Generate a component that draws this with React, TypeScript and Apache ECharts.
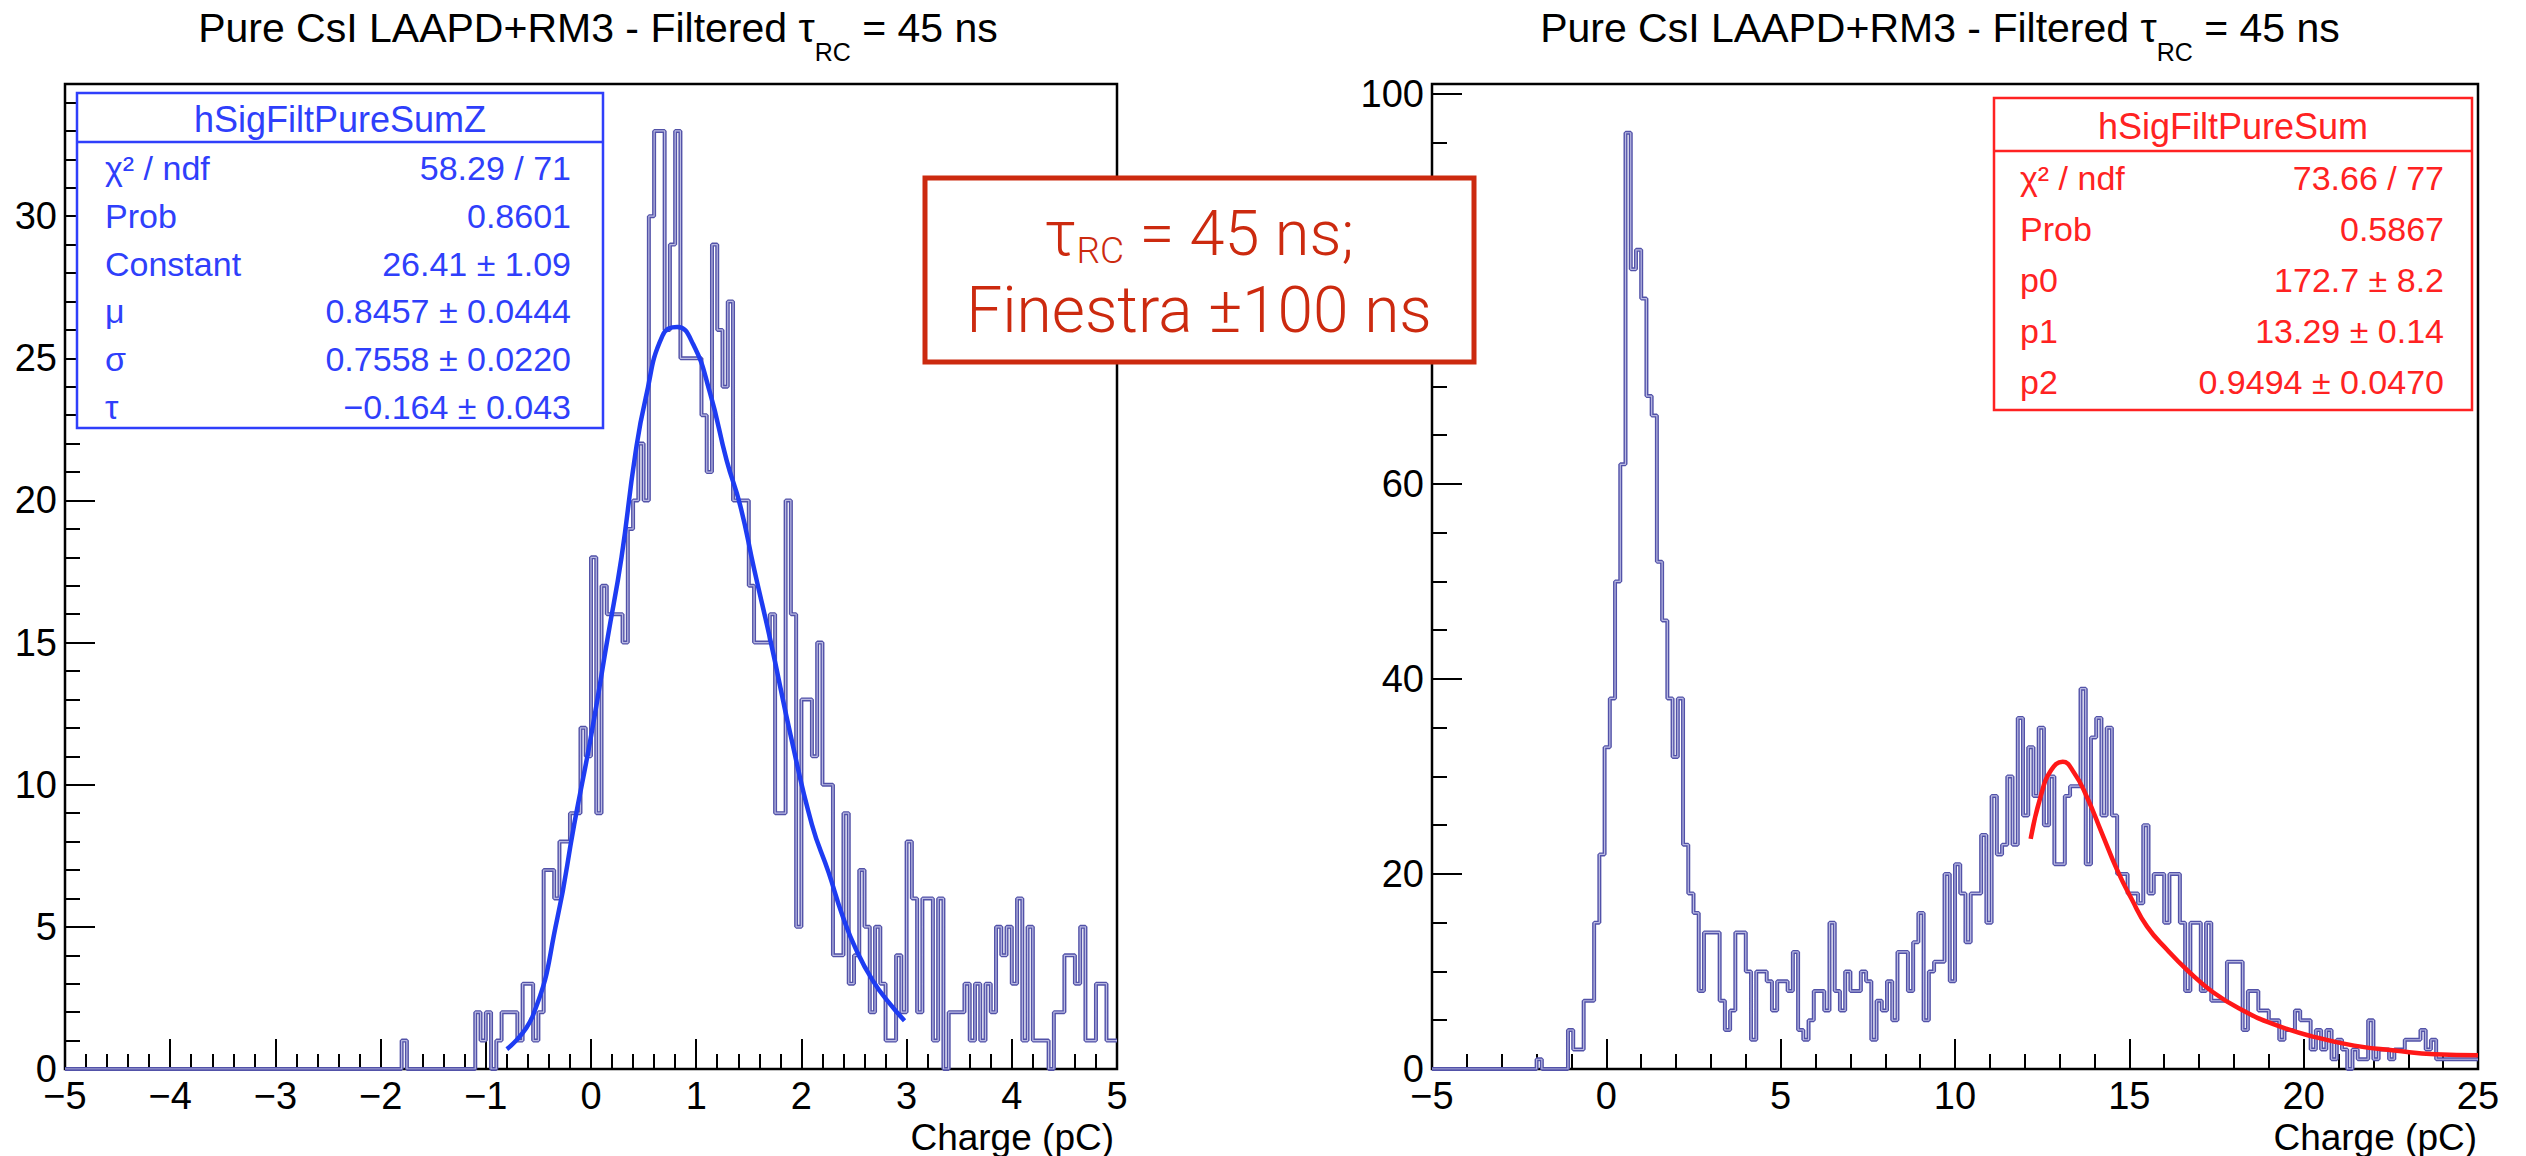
import React, { useEffect, useRef } from "react";
import * as echarts from "echarts";

const W = 2526;
const H = 1156;
const FONT = '"Liberation Sans", Arial, Helvetica, sans-serif';
const NOTE_FONT = 'Roboto, "Liberation Sans", Arial, sans-serif';

// ---------- data ----------
const titleMain = "Pure CsI LAAPD+RM3 - Filtered ";
const titleSymbol = "τ";
const titleSub = "RC";
const titleTail = " = 45 ns";
const xAxisName = "Charge (pC)";

const leftMin = -5;
const leftMax = 5;
const leftBinWidth = 0.05;
// counts per bin, bin i spans [leftMin + i*w, leftMin + (i+1)*w]
const leftCounts = [
  0, 0, 0, 0, 0, 0, 0, 0, 0, 0,
  0, 0, 0, 0, 0, 0, 0, 0, 0, 0,
  0, 0, 0, 0, 0, 0, 0, 0, 0, 0,
  0, 0, 0, 0, 0, 0, 0, 0, 0, 0,
  0, 0, 0, 0, 0, 0, 0, 0, 0, 0,
  0, 0, 0, 0, 0, 0, 0, 0, 0, 0,
  0, 0, 0, 0, 1, 0, 0, 0, 0, 0,
  0, 0, 0, 0, 0, 0, 0, 0, 2, 1,
  2, 0, 1, 2, 2, 2, 1, 3, 3, 1,
  2, 7, 7, 6, 8, 8, 9, 9, 12, 11,
  18, 9, 17, 16, 16, 16, 15, 19, 20, 22,
  20, 30, 33, 33, 26, 29, 33, 25, 25, 25,
  25, 23, 21, 29, 26, 24, 27, 20, 20, 20,
  17, 15, 15, 15, 16, 9, 9, 20, 16, 5,
  13, 13, 11, 15, 10, 10, 4, 4, 9, 3,
  4, 7, 5, 2, 5, 3, 1, 1, 4, 2,
  8, 6, 2, 6, 6, 1, 6, 0, 2, 2,
  2, 3, 1, 3, 1, 3, 2, 5, 4, 5,
  3, 6, 1, 5, 1, 1, 1, 0, 2, 2,
  4, 4, 3, 5, 1, 1, 3, 3, 1, 1,
];
// fitted curve: [charge, counts]
const leftFit = [
  [-0.8, 0.7], [-0.55, 1.9], [-0.32, 5.3], [-0.16, 8.6], [0.0, 11.7],
  [0.16, 15.2], [0.29, 18.0], [0.42, 21.6], [0.52, 23.6], [0.68, 25.8],
  [0.82, 26.1], [0.97, 25.5], [1.13, 23.8], [1.29, 21.4], [1.42, 19.8],
  [1.55, 17.6], [1.71, 15.0], [1.9, 11.7], [2.1, 8.6], [2.26, 6.9],
  [2.39, 5.4], [2.52, 4.2], [2.68, 3.1], [2.84, 2.3], [2.98, 1.7],
];

const rightMin = -5;
const rightMax = 25;
const rightBinWidth = 0.15;
const rightCounts = [
  0, 0, 0, 0, 0, 0, 0, 0, 0, 0,
  0, 0, 0, 0, 0, 0, 0, 0, 0, 0,
  1, 0, 0, 0, 0, 0, 4, 2, 2, 7,
  7, 15, 22, 33, 38, 50, 62, 96, 82, 84,
  79, 69, 67, 52, 46, 38, 32, 38, 23, 18,
  16, 8, 14, 14, 14, 7, 4, 6, 14, 14,
  10, 3, 10, 10, 9, 6, 9, 9, 8, 12,
  4, 3, 5, 8, 8, 6, 15, 8, 6, 10,
  8, 8, 10, 9, 3, 7, 6, 9, 5, 12,
  12, 8, 13, 16, 5, 10, 11, 11, 20, 9,
  21, 18, 13, 18, 18, 24, 15, 28, 22, 23,
  30, 23, 36, 26, 33, 28, 35, 25, 30, 21,
  21, 28, 29, 29, 39, 21, 34, 36, 26, 35,
  26, 20, 20, 18, 18, 17, 25, 18, 20, 20,
  15, 20, 20, 15, 8, 15, 15, 8, 15, 7,
  7, 7, 11, 11, 11, 4, 8, 8, 6, 6,
  5, 5, 3, 4, 4, 6, 5, 5, 2, 4,
  2, 4, 1, 3, 2, 0, 2, 1, 1, 5,
  1, 2, 2, 1, 2, 2, 3, 3, 3, 4,
  2, 3, 1, 1, 1, 1, 1, 1, 1, 1,
];
const rightFit = [
  [12.17, 23.6], [12.46, 28.0], [12.75, 30.6], [13.09, 31.5], [13.41, 30.4],
  [13.77, 28.0], [14.2, 24.3], [14.64, 20.5], [15.07, 17.4], [15.51, 14.6],
  [16.09, 12.2], [16.67, 10.1], [17.39, 7.9], [18.26, 6.0], [19.13, 4.6],
  [20.29, 3.3], [21.45, 2.4], [22.61, 1.9], [23.77, 1.5], [25.0, 1.4],
];

const leftStatsName = "hSigFiltPureSumZ";
const leftStatLabels = ["χ² / ndf", "Prob", "Constant", "μ", "σ", "τ"];
const leftStatValues = [
  "58.29 / 71", "0.8601", "26.41 ± 1.09", "0.8457 ± 0.0444", "0.7558 ± 0.0220", "−0.164 ± 0.043",
];
const rightStatsName = "hSigFiltPureSum";
const rightStatLabels = ["χ² / ndf", "Prob", "p0", "p1", "p2"];
const rightStatValues = ["73.66 / 77", "0.5867", "172.7 ± 8.2", "13.29 ± 0.14", "0.9494 ± 0.0470"];

const noteLine1 = ["τ", "RC", " = 45 ns;"];
const noteLine2 = "Finestra ±100 ns";

// ---------- styles ----------
const HIST_OUT = "#5252a8";
const HIST_IN = "#b9b9e2";
const BLUE = "#2f3ffb";
const RED = "#ff2222";
const NOTE_RED = "#cc2a0f";

const LG = { left: 65, top: 84, width: 1052, height: 985 };
const RG = { left: 1432, top: 84, width: 1046, height: 985 };

function histPoints(counts: number[], min: number, w: number) {
  const pts = counts.map((c, i) => [min + i * w, c]);
  pts.push([min + counts.length * w, counts[counts.length - 1]]);
  return pts;
}

const minus = (v: number) => String(v).replace("-", "−");

function xAxisCfg(gridIndex: number, min: number, max: number, interval: number) {
  return {
    type: "value",
    gridIndex,
    min,
    max,
    interval,
    axisLine: { show: true, onZero: false, lineStyle: { color: "#000", width: 2 } },
    axisTick: { show: true, inside: true, length: 30, lineStyle: { color: "#000", width: 2 } },
    minorTick: { show: true, splitNumber: 5, length: 15, lineStyle: { color: "#000", width: 2 } },
    splitLine: { show: false },
    axisLabel: { fontSize: 38, fontFamily: FONT, color: "#000", margin: 8, formatter: minus },
  };
}

function yAxisCfg(gridIndex: number, max: number, interval: number, minorSplit: number) {
  return {
    type: "value",
    gridIndex,
    min: 0,
    max,
    interval,
    axisLine: { show: true, onZero: false, lineStyle: { color: "#000", width: 2 } },
    axisTick: { show: true, inside: true, length: 30, lineStyle: { color: "#000", width: 2 } },
    minorTick: { show: true, splitNumber: minorSplit, length: 15, lineStyle: { color: "#000", width: 2 } },
    splitLine: { show: false },
    axisLabel: { fontSize: 38, fontFamily: FONT, color: "#000", margin: 8, showMaxLabel: false },
  };
}

function txt(x: number, y: number, text: string, opts: any, z = 100) {
  const align = opts.align || "left";
  return {
    type: "text",
    z,
    silent: true,
    style: {
      x,
      y,
      text,
      fontFamily: FONT,
      fontSize: 36,
      fill: "#000",
      verticalAlign: "middle",
      textVerticalAlign: "middle",
      ...opts,
      align,
      textAlign: align,
    },
  };
}

function statsBox(
  x: number, y: number, w: number, h: number, headerH: number, rowY0: number, rowStep: number,
  padL: number, padR: number, color: string, name: string, labels: string[], values: string[]
) {
  const els: any[] = [
    { type: "rect", z: 99, silent: true, shape: { x, y, width: w, height: h }, style: { fill: "#fff", stroke: color, lineWidth: 2.5 } },
    { type: "line", z: 100, silent: true, shape: { x1: x, y1: y + headerH, x2: x + w, y2: y + headerH }, style: { stroke: color, lineWidth: 2.5 } },
    txt(x + w / 2, y + headerH / 2 + 2, name, { fill: color, fontSize: 36, align: "center" }),
  ];
  labels.forEach((l, i) => {
    els.push(txt(x + padL, rowY0 + i * rowStep, l, { fill: color, fontSize: 34 }));
    els.push(txt(x + w - padR, rowY0 + i * rowStep, values[i], { fill: color, fontSize: 34, align: "right" }));
  });
  return els;
}

function titleText(cx: number, cy: number) {
  return {
    type: "text",
    z: 100,
    silent: true,
    style: {
      x: cx,
      y: cy,
      text: `{a|${titleMain}${titleSymbol}}{b|${titleSub}}{a|${titleTail}}`,
      align: "center",
      verticalAlign: "middle",
      textAlign: "center",
      textVerticalAlign: "middle",
      rich: {
        a: { fontSize: 41, fontFamily: FONT, lineHeight: 72, verticalAlign: "middle", fill: "#000", color: "#000" },
        b: { fontSize: 25, fontFamily: FONT, lineHeight: 72, verticalAlign: "bottom", fill: "#000", color: "#000" },
      },
    },
  };
}

export default function App() {
  const ref = useRef<HTMLDivElement>(null);

  useEffect(() => {
    if (!ref.current) return;
    const chart = echarts.init(ref.current, null, { renderer: "svg", width: W, height: H });

    const leftHist = histPoints(leftCounts, leftMin, leftBinWidth);
    const rightHist = histPoints(rightCounts, rightMin, rightBinWidth);

    const graphics: any[] = [
      titleText(598, 28),
      titleText(1940, 28),
      txt(LG.left + LG.width - 3, 1137, xAxisName, { align: "right", fontSize: 37 }),
      txt(RG.left + RG.width - 1, 1137, xAxisName, { align: "right", fontSize: 37 }),
      ...statsBox(77, 93, 526, 335, 49, 168, 47.8, 28, 32, BLUE, leftStatsName, leftStatLabels, leftStatValues),
      ...statsBox(1994, 98, 478, 312, 53, 178, 51, 26, 28, RED, rightStatsName, rightStatLabels, rightStatValues),
      { type: "rect", z: 110, silent: true, shape: { x: 925, y: 178, width: 549, height: 184 }, style: { fill: "#fff", stroke: NOTE_RED, lineWidth: 5 } },
      {
        type: "text",
        z: 111,
        silent: true,
        style: {
          x: 1199,
          y: 233,
          text: `{t|${noteLine1[0]}}{s|${noteLine1[1]}}{t|${noteLine1[2]}}`,
          align: "center",
          verticalAlign: "middle",
          textAlign: "center",
          textVerticalAlign: "middle",
          rich: {
            t: { fontSize: 63, fontFamily: NOTE_FONT, fontWeight: 300, lineHeight: 71, verticalAlign: "middle", fill: NOTE_RED, color: NOTE_RED },
            s: { fontSize: 37, fontFamily: NOTE_FONT, fontWeight: 300, lineHeight: 71, verticalAlign: "bottom", fill: NOTE_RED, color: NOTE_RED },
          },
        },
      },
      txt(1199, 310, noteLine2, { fill: NOTE_RED, fontSize: 64, fontFamily: NOTE_FONT, fontWeight: 300, align: "center" }, 111),
    ];

    const option: any = {
      animation: false,
      backgroundColor: "#fff",
      grid: [
        { ...LG, show: true, borderColor: "#000", borderWidth: 2.5, backgroundColor: "transparent" },
        { ...RG, show: true, borderColor: "#000", borderWidth: 2.5, backgroundColor: "transparent" },
      ],
      xAxis: [xAxisCfg(0, leftMin, leftMax, 1), xAxisCfg(1, rightMin, rightMax, 5)],
      yAxis: [yAxisCfg(0, 34.65, 5, 5), yAxisCfg(1, 101, 20, 4)],
      series: [
        { type: "line", xAxisIndex: 0, yAxisIndex: 0, step: "end", data: leftHist, symbol: "none", silent: true, lineStyle: { color: HIST_OUT, width: 4 }, z: 3 },
        { type: "line", xAxisIndex: 0, yAxisIndex: 0, step: "end", data: leftHist, symbol: "none", silent: true, lineStyle: { color: HIST_IN, width: 1.2 }, z: 4 },
        { type: "line", xAxisIndex: 0, yAxisIndex: 0, data: leftFit, smooth: true, symbol: "none", silent: true, lineStyle: { color: "#1e3cf2", width: 4.5 }, z: 5 },
        { type: "line", xAxisIndex: 1, yAxisIndex: 1, step: "end", data: rightHist, symbol: "none", silent: true, lineStyle: { color: HIST_OUT, width: 4 }, z: 3 },
        { type: "line", xAxisIndex: 1, yAxisIndex: 1, step: "end", data: rightHist, symbol: "none", silent: true, lineStyle: { color: HIST_IN, width: 1.2 }, z: 4 },
        { type: "line", xAxisIndex: 1, yAxisIndex: 1, data: rightFit, smooth: true, symbol: "none", silent: true, lineStyle: { color: "#ff1818", width: 4.5 }, z: 5 },
      ],
      graphic: { elements: graphics },
    };

    chart.setOption(option);
    return () => chart.dispose();
  }, []);

  return (
    <div
      ref={ref}
      style={{ position: "fixed", left: 0, top: 0, width: W, height: H, background: "#fff" }}
    />
  );
}
